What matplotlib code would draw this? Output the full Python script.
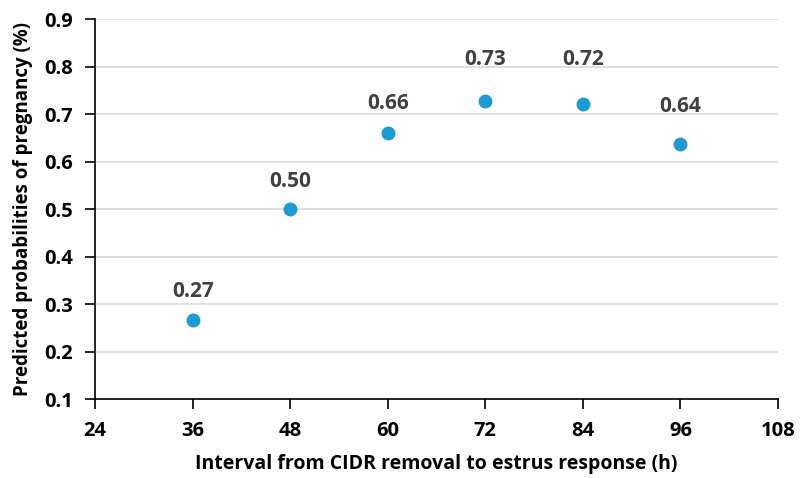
import matplotlib.pyplot as plt

# Datos
interval_h = [36, 48, 60, 72, 84, 96]
prob = [0.267, 0.501, 0.660, 0.727, 0.721, 0.637]
prob_labels = ['0.27', '0.50', '0.66', '0.73', '0.72', '0.64']
x_ticks = [24, 36, 48, 60, 72, 84, 96, 108]
y_ticks = [0.1, 0.2, 0.3, 0.4, 0.5, 0.6, 0.7, 0.8, 0.9]

plt.rcParams['font.family'] = ['Open Sans', 'DejaVu Sans']
plt.rcParams['font.weight'] = 'bold'

fig = plt.figure(figsize=(8.1, 4.78), dpi=100)
ax = fig.add_axes([0.1175, 0.165, 0.843, 0.795])

ax.plot(interval_h, prob, 'o', color='#1c9ad6', markersize=9, zorder=3)

# Etiquetas de los puntos (desplazamiento vertical en pixeles, como en el original)
label_dy = [23, 22, 24, 36, 39, 32]
for x, y, txt, dy in zip(interval_h, prob, prob_labels, label_dy):
    ax.annotate(txt, (x, y), xytext=(0, dy * 0.72), textcoords='offset points',
                ha='center', va='baseline', fontsize=15, fontweight='bold', color='#404040')

ax.set_xlim(24, 108)
ax.set_ylim(0.1, 0.9)
ax.set_xticks(x_ticks)
ax.set_yticks(y_ticks)
ax.set_yticklabels([f'{v:.1f}' for v in y_ticks])
ax.tick_params(axis='both', labelsize=14.5, direction='out', length=7, width=1.2, colors='black')
ax.tick_params(axis='x', pad=9)
ax.tick_params(axis='y', pad=9)
for lbl in ax.get_xticklabels() + ax.get_yticklabels():
    lbl.set_fontweight('bold')

ax.grid(axis='y', color='#d9d9d9', linewidth=1.2)
ax.set_axisbelow(True)
for s in ['top', 'right']:
    ax.spines[s].set_visible(False)
for s in ['left', 'bottom']:
    ax.spines[s].set_linewidth(1.2)
    ax.spines[s].set_color('black')

ax.set_xlabel('Interval from CIDR removal to estrus response (h)', fontsize=14,
              fontweight='bold', labelpad=9)
ax.set_ylabel('Predicted probabilities of pregnancy (%)', fontsize=13.5,
              fontweight='bold', labelpad=8)

fig.savefig('out.png', dpi=100)
